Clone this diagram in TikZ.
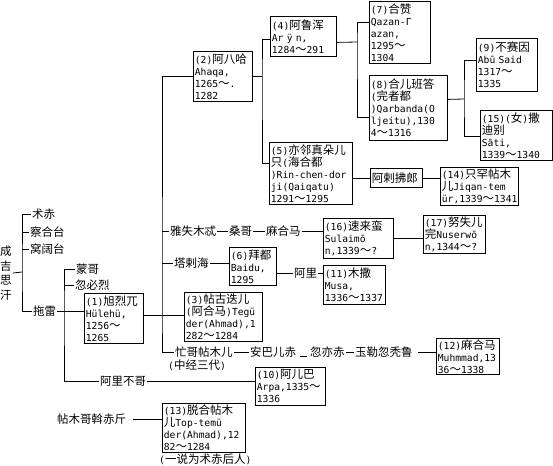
\documentclass[tikz,border=0pt]{standalone}
\usepackage{fontspec}
\usepackage{tikz}
\setmainfont{DejaVu Sans Mono}[Scale=0.84]
\newfontfamily\zhfont{Noto Sans CJK SC}
\newcommand{\hz}[1]{{\zhfont #1}}
\tikzset{
  khan/.style={draw, line width=0.8pt, anchor=north west, align=left,
    inner xsep=1.5pt, inner ysep=1pt, font=\fontsize{11.5}{12}\selectfont},
  txt/.style={anchor=west, inner sep=1pt, font=\fontsize{11.5}{12}\selectfont},
  link/.style={line width=0.8pt}
}
\newcommand{\KhanBox}[6]{% name, x, y, width, height, lines
  \pgfmathsetmacro{\khanw}{#4-3}%
  \node[khan, text width=\khanw pt, minimum height=#5pt] (#1) at (#2,#3) {#6};
}

\begin{document}
\begin{tikzpicture}[x=1pt, y=-1pt]
  \useasboundingbox (0,0) rectangle (553,465);
  % first generations
  \node[inner sep=1pt, align=center, font=\fontsize{11.5}{14.5}\selectfont] (gen) at (6,273)
    {\hz{成}\\\hz{吉}\\\hz{思}\\\hz{汗}};
  \node[txt] (zc) at (31,214) {\hz{术赤}};
  \node[txt] (ch) at (29,232) {\hz{察合台}};
  \node[txt] (wk) at (29,249) {\hz{窝阔台}};
  \node[txt] (tl) at (32,311) {\hz{拖雷}};
  \node[txt] (mg) at (75,269) {\hz{蒙哥}};
  \node[txt] (hb) at (74,285) {\hz{忽必烈}};
  \node[txt] (alg) at (99,381) {\hz{阿里不哥}};
  \node[txt] (tm) at (56,419) {\hz{帖木哥斡赤斤}};
  \node[txt] (ysm) at (169,231) {\hz{雅失木忒}};
  \node[txt] (sg) at (228,231) {\hz{桑哥}};
  \node[txt] (mh) at (265,231) {\hz{麻合马}};
  \node[txt] (th) at (173,263) {\hz{塔剌海}};
  \node[txt] (al) at (293,273) {\hz{阿里}};
  \node[txt] (mgt) at (174,352) {\hz{忙哥帖木儿}};
  \node[txt] (abe) at (249,352) {\hz{安巴儿赤}};
  \node[txt] (hyc) at (309,352) {\hz{忽亦赤}};
  \node[txt] (ylh) at (354,352) {\hz{玉勒忽秃鲁}};
  \node[txt] (zj) at (167,365) {(\hz{中经三代})};
  \node[txt] (ys) at (158,459) {(\hz{一说为术赤后人})};
  % ilkhans
  \KhanBox{b1}{84}{293}{59}{50}{(1)\hz{旭烈兀}\\Hülehü,\\1256\hz{～}\\1265}
  \KhanBox{b2}{193}{51}{59}{50}{(2)\hz{阿八哈}\\Ahaqa,\\1265\hz{～}.\\1282}
  \KhanBox{b3}{184}{292}{78}{49}{(3)\hz{帖古迭儿}\\(\hz{阿合马})Tegü\\der(Ahmad),1\\282\hz{～}1284}
  \KhanBox{b4}{270}{16}{66}{40}{(4)\hz{阿鲁浑}\\Ar ÿ n,\\1284\hz{～}291}
  \KhanBox{b5}{269}{142}{83}{62}{(5)\hz{亦邻真朵儿}\\\hz{只}(\hz{海合都}\\)Rin-chen-dor\\ji(Qaiqatu)\\1291\hz{～}1295}
  \KhanBox{b6}{229}{247}{47}{38}{(6)\hz{拜都}\\Baidu,\\1295}
  \KhanBox{b7}{369}{1}{61}{62}{(7)\hz{合赞}\\Qazan-Γ\\azan,\\1295\hz{～}\\1304}
  \KhanBox{b8}{369}{75}{78}{65}{(8)\hz{合儿班答}\\(\hz{完者都}\\)Qarbanda(O\\ljeitu),130\\4\hz{～}1316}
  \KhanBox{b9}{476}{38}{61}{53}{(9)\hz{不赛因}\\Abū Said\\1317\hz{～}\\1335}
  \KhanBox{b10}{255}{367}{70}{38}{(10)\hz{阿儿巴}\\Arpa,1335\hz{～}\\1336}
  \KhanBox{b11}{323}{265}{62}{39}{(11)\hz{木撒}\\Musa,\\1336\hz{～}1337}
  \KhanBox{b12}{436}{338}{63}{36}{(12)\hz{麻合马}\\Muhmmad,13\\36\hz{～}1338}
  \KhanBox{b13}{162}{403}{83}{49}{(13)\hz{脱合帖木}\\\hz{儿}Top-temü\\der(Ahmad),12\\82\hz{～}1284}
  \KhanBox{b14}{440}{167}{78}{38}{(14)\hz{只罕帖木}\\\hz{儿}Jiqan-tem\\ür,1339\hz{～}1341}
  \KhanBox{b15}{480}{110}{72}{50}{(15)(\hz{女})\hz{撒}\\\hz{迪别}\\Sāti,\\1339\hz{～}1340}
  \KhanBox{b16}{323}{218}{70}{40}{(16)\hz{速来蛮}\\Sulaimō\\n,1339\hz{～}?}
  \KhanBox{b17}{423}{215}{62}{38}{(17)\hz{努失儿}\\\hz{完}Nuserwō\\n,1344\hz{～}?}
  \KhanBox{alb}{370}{168}{52}{19}{\hz{阿剌拂郎}}
  % junctions
  \coordinate (j0) at (22,272);
  \coordinate (j3) at (64,311);
  \coordinate (j1) at (162,315);
  \coordinate (j2) at (262,78);
  \coordinate (j4) at (357,42);
  \coordinate (j8) at (464,99);
  % connectors
  \draw[link] (gen.east) -- (j0);
  \draw[link] (zc.west) -| (j0) |- (tl.west);
  \draw[link] (ch.west) -- (ch.west -| j0);
  \draw[link] (wk.west) -- (wk.west -| j0);
  \draw[link] (tl.east) -- (tl.east -| j3);
  \draw[link] (mg.west) -| (j3) |- (alg.west);
  \draw[link] (hb.west) -- (hb.west -| j3);
  \draw[link] (j3) -- (j3 -| b1.west);
  \draw[link] (b1.east |- j1) -- (j1 -| b3.west);
  \draw[link] (b2.west) -| (j1) |- (mgt.west);
  \draw[link] (ysm.west) -- (ysm.west -| j1);
  \draw[link] (th.west) -- (th.west -| j1);
  \draw[link] (ysm.east) -- (sg.west);
  \draw[link] (sg.east) -- (mh.west);
  \draw[link] (mh.east) -- (mh.east -| b16.west);
  \draw[link] (b16.east) -- (b16.east -| b17.west);
  \draw[link] (th.east) -- (th.east -| b6.west);
  \draw[link] (al.west -| b6.east) -- (al.west);
  \draw[link] (al.east) -- (al.east -| b11.west);
  \draw[link] (mgt.east) -- (abe.west);
  \draw[link] ([xshift=3pt,yshift=-4pt]abe.east) -- ([xshift=-2pt,yshift=-4pt]hyc.west);
  \draw[link] (hyc.east) -- (ylh.west);
  \draw[link] ([xshift=4pt]ylh.east) -- (ylh.east -| b12.west);
  \draw[link] (alg.east) -- (alg.east -| b10.west);
  \draw[link] ([xshift=6pt]tm.east) -- (tm.east -| b13.west);
  \draw[link] (b2.east) -- (b2.east -| j2);
  \draw[link] ([yshift=-3pt]b4.west) -| (j2) |- ([yshift=10pt]b5.west);
  \draw[link] ([yshift=-6pt]b4.east) -- (j4);
  \draw[link] ([yshift=10pt]b7.west) -| (j4) |- ([yshift=-9.5pt]b8.west);
  \draw[link] ([yshift=8.5pt]b8.east) -- (j8);
  \draw[link] ([yshift=4.5pt]b9.west) -| (j8) |- ([yshift=-1pt]b15.west);
  \draw[link] (alb.west -| b5.east) -- (alb.west);
  \draw[link] (alb.east) -- (alb.east -| b14.west);
\end{tikzpicture}
\end{document}
